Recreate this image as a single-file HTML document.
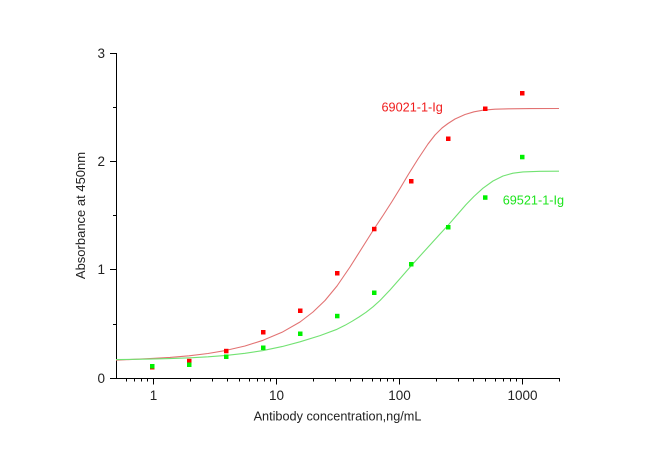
<!DOCTYPE html>
<html>
<head>
<meta charset="utf-8">
<style>
html,body{margin:0;padding:0;background:#fff;}
svg{display:block;}
text{font-family:"Liberation Sans",Arial,sans-serif;}
</style>
</head>
<body>
<svg width="650" height="453" viewBox="0 0 650 453" xmlns="http://www.w3.org/2000/svg">
<rect x="0" y="0" width="650" height="453" fill="#fff"/>

<!-- axes -->
<g stroke="#000" stroke-width="1" fill="none" shape-rendering="crispEdges">
  <line x1="116.5" y1="53" x2="116.5" y2="378.5"/>
  <line x1="116" y1="378.5" x2="559.5" y2="378.5"/>
  <!-- y major ticks -->
  <line x1="110" y1="378.5" x2="116" y2="378.5"/>
  <line x1="110" y1="269.5" x2="116" y2="269.5"/>
  <line x1="110" y1="161.5" x2="116" y2="161.5"/>
  <line x1="110" y1="53.5" x2="116" y2="53.5"/>
  <!-- y minor ticks -->
  <line x1="113" y1="324.5" x2="116" y2="324.5"/>
  <line x1="113" y1="215.5" x2="116" y2="215.5"/>
  <line x1="113" y1="107.5" x2="116" y2="107.5"/>
  <!-- x major ticks -->
  <line x1="153.5" y1="378" x2="153.5" y2="384.5"/>
  <line x1="276.5" y1="378" x2="276.5" y2="384.5"/>
  <line x1="399.5" y1="378" x2="399.5" y2="384.5"/>
  <line x1="522.5" y1="378" x2="522.5" y2="384.5"/>
  <!-- x minor ticks -->
  <g>
    <line x1="126.5" y1="378" x2="126.5" y2="381.5"/>
    <line x1="134.5" y1="378" x2="134.5" y2="381.5"/>
    <line x1="141.5" y1="378" x2="141.5" y2="381.5"/>
    <line x1="147.5" y1="378" x2="147.5" y2="381.5"/>

    <line x1="190.5" y1="378" x2="190.5" y2="381.5"/>
    <line x1="212.5" y1="378" x2="212.5" y2="381.5"/>
    <line x1="227.5" y1="378" x2="227.5" y2="381.5"/>
    <line x1="239.5" y1="378" x2="239.5" y2="381.5"/>
    <line x1="249.5" y1="378" x2="249.5" y2="381.5"/>
    <line x1="257.5" y1="378" x2="257.5" y2="381.5"/>
    <line x1="264.5" y1="378" x2="264.5" y2="381.5"/>
    <line x1="270.5" y1="378" x2="270.5" y2="381.5"/>

    <line x1="313.5" y1="378" x2="313.5" y2="381.5"/>
    <line x1="335.5" y1="378" x2="335.5" y2="381.5"/>
    <line x1="350.5" y1="378" x2="350.5" y2="381.5"/>
    <line x1="362.5" y1="378" x2="362.5" y2="381.5"/>
    <line x1="372.5" y1="378" x2="372.5" y2="381.5"/>
    <line x1="380.5" y1="378" x2="380.5" y2="381.5"/>
    <line x1="387.5" y1="378" x2="387.5" y2="381.5"/>
    <line x1="393.5" y1="378" x2="393.5" y2="381.5"/>

    <line x1="436.5" y1="378" x2="436.5" y2="381.5"/>
    <line x1="458.5" y1="378" x2="458.5" y2="381.5"/>
    <line x1="473.5" y1="378" x2="473.5" y2="381.5"/>
    <line x1="485.5" y1="378" x2="485.5" y2="381.5"/>
    <line x1="495.5" y1="378" x2="495.5" y2="381.5"/>
    <line x1="503.5" y1="378" x2="503.5" y2="381.5"/>
    <line x1="510.5" y1="378" x2="510.5" y2="381.5"/>
    <line x1="516.5" y1="378" x2="516.5" y2="381.5"/>

    <line x1="559.5" y1="378" x2="559.5" y2="381.5"/>
  </g>
</g>

<!-- tick labels -->
<g fill="#222" font-size="13.5">
  <text x="105" y="383" text-anchor="end">0</text>
  <text x="105" y="274" text-anchor="end">1</text>
  <text x="105" y="166" text-anchor="end">2</text>
  <text x="105" y="58" text-anchor="end">3</text>
  <text x="153.5" y="400" text-anchor="middle">1</text>
  <text x="276.5" y="400" text-anchor="middle">10</text>
  <text x="399.5" y="400" text-anchor="middle">100</text>
  <text x="522.5" y="400" text-anchor="middle">1000</text>
</g>

<!-- axis titles -->
<text x="337.5" y="420.5" text-anchor="middle" font-size="12.7" fill="#222">Antibody concentration,ng/mL</text>
<text transform="translate(85,215.5) rotate(-90)" x="0" y="0" text-anchor="middle" font-size="13" fill="#222">Absorbance at 450nm</text>

<!-- curves -->
<polyline fill="none" stroke="#e27272" stroke-width="1.1" stroke-linejoin="round"
 points="116,360.2 150,358.6 170,357.4 189,355.8 208,353.5 226,350.4 245,346 263,340.3 282,332.3 300,322 313,312 325,300.5 337,286 350,267 362,248 374,229 383,215.5 392,201.5 400,188.5 408,175 418,159 428,144 435,135 442,128 448,123.5 455,119 465,114.5 474,111.8 483,110.2 495,109.2 510,108.8 530,108.6 559,108.5"/>
<polyline fill="none" stroke="#72e272" stroke-width="1.1" stroke-linejoin="round"
 points="116,359.6 150,359.1 170,358.6 190,357.8 208,356.8 226,355.4 245,353.3 263,350.6 282,346.6 300,341.8 320,335.6 337,329.3 345,325.3 352,321.3 359,317 366,312.3 373,306.8 380,300.5 390,290 400,278.6 411,266 420,256 430,245 440,234 449,224.2 457,215 466,204.6 474,196.4 483,188.2 493,181 503,176 513,173.2 523,171.9 540,171.3 559,171.2"/>

<!-- red points -->
<g fill="#f00">
  <rect x="150" y="365" width="4.5" height="4.5"/>
  <rect x="187" y="358.8" width="4.5" height="4.5"/>
  <rect x="224" y="348.8" width="4.5" height="4.5"/>
  <rect x="261" y="330" width="4.5" height="4.5"/>
  <rect x="298" y="308.5" width="4.5" height="4.5"/>
  <rect x="335" y="271" width="4.5" height="4.5"/>
  <rect x="372" y="226.8" width="4.5" height="4.5"/>
  <rect x="409" y="179" width="4.5" height="4.5"/>
  <rect x="446" y="136.5" width="4.5" height="4.5"/>
  <rect x="483" y="106.5" width="4.5" height="4.5"/>
  <rect x="520" y="91" width="4.5" height="4.5"/>
</g>
<!-- green points -->
<g fill="#00f000">
  <rect x="150" y="364" width="4.5" height="4.5"/>
  <rect x="187" y="362.5" width="4.5" height="4.5"/>
  <rect x="224" y="354.5" width="4.5" height="4.5"/>
  <rect x="261" y="345.5" width="4.5" height="4.5"/>
  <rect x="298" y="331.5" width="4.5" height="4.5"/>
  <rect x="335" y="313.8" width="4.5" height="4.5"/>
  <rect x="372" y="290.5" width="4.5" height="4.5"/>
  <rect x="409" y="262" width="4.5" height="4.5"/>
  <rect x="446" y="225" width="4.5" height="4.5"/>
  <rect x="483" y="195.3" width="4.5" height="4.5"/>
  <rect x="520" y="154.8" width="4.5" height="4.5"/>
</g>

<!-- series labels -->
<text x="381.5" y="111.7" font-size="12.7" fill="#f01c1c">69021-1-Ig</text>
<text x="502.7" y="204.3" font-size="12.7" fill="#1ee41e">69521-1-Ig</text>
</svg>
</body>
</html>
